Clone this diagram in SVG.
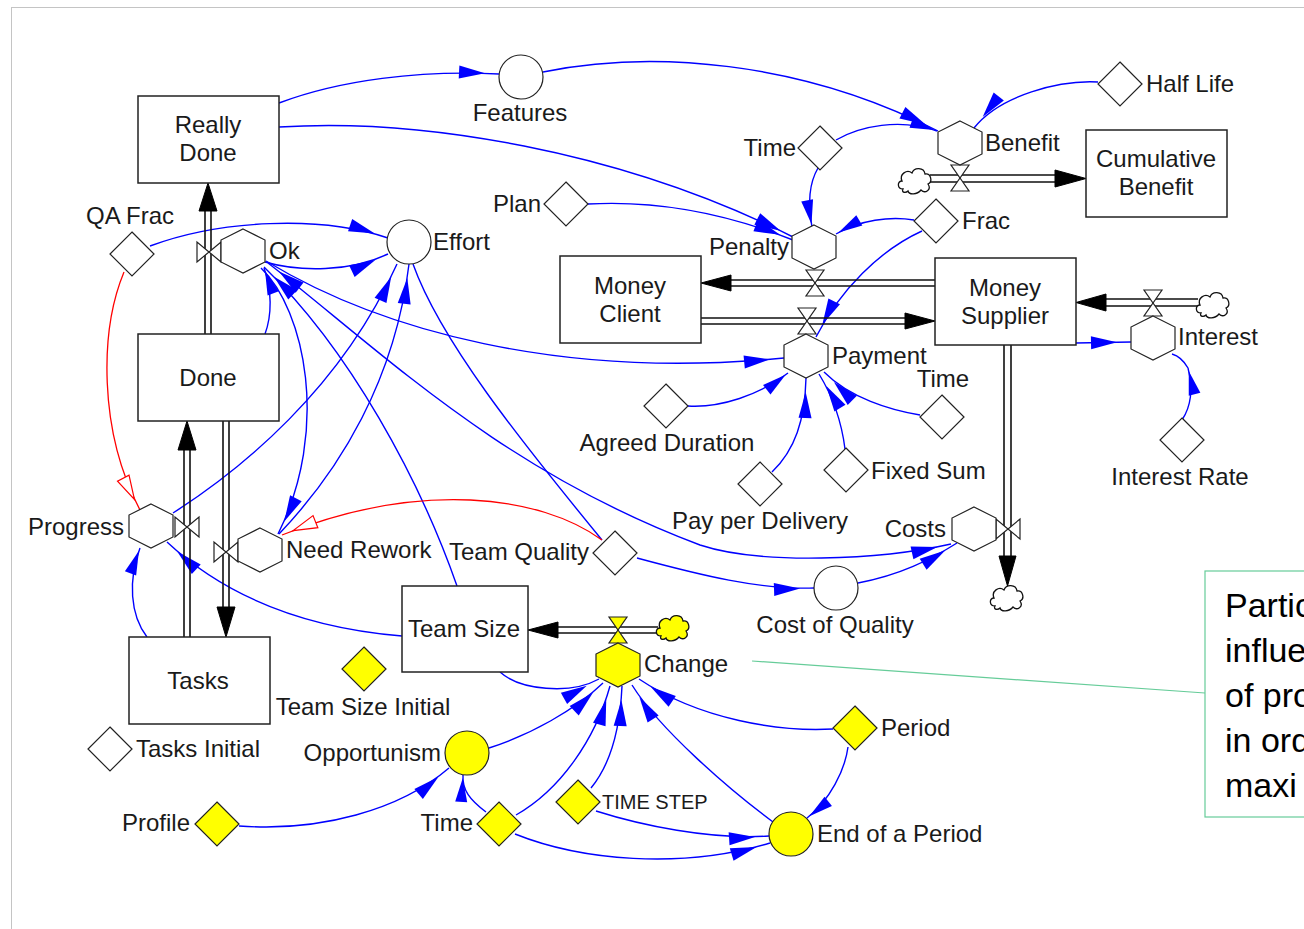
<svg xmlns="http://www.w3.org/2000/svg" xmlns:xlink="http://www.w3.org/1999/xlink" width="1304" height="929" viewBox="0 0 1304 929">
<style>
.t{font-family:"Liberation Sans",Arial,sans-serif;font-size:24px;fill:#1a1a1a;dominant-baseline:central}
.c{text-anchor:middle}
.e{text-anchor:end}
.box{fill:#fff;stroke:#222;stroke-width:1.5}
.n{fill:#fff;stroke:#222;stroke-width:1.2}
.y{fill:#ffff00;stroke:#222;stroke-width:1.2}
.lk{fill:none;stroke:#0000ff;stroke-width:1.4}
.rd{fill:none;stroke:#ff0000;stroke-width:1.3}
.fl{fill:none;stroke:#111;stroke-width:1.6}
.fa{fill:#000;stroke:#000;stroke-width:1}
.note{font-family:"Liberation Sans",Arial,sans-serif;font-size:34px;fill:#000}
</style>
<defs>
<polygon id="hex" points="0,-22 22,-11 22,11 0,22 -22,11 -22,-11"/>
<polygon id="dia" points="0,-22 22,0 0,22 -22,0"/>
<path id="cloud" d="M-12,9 C-18,9 -18,1 -13,1 C-16,-6 -8,-11 -3,-7 C-1,-13 9,-13 10,-6 C16,-7 18,2 13,4 C17,10 10,14 6,10 C2,15 -6,15 -7,11 C-9,13 -14,13 -12,9 Z" stroke="#111" stroke-width="1.3"/>
<g id="vh"><polygon points="-9,-13 9,-13 0,0" /><polygon points="-9,13 9,13 0,0"/></g>
<g id="vv"><polygon points="-12,-10 -12,10 0,0"/><polygon points="12,-10 12,10 0,0"/></g>
<marker id="ar" markerUnits="userSpaceOnUse" viewBox="-50 -10 50 20" markerWidth="50" markerHeight="20" refX="0" refY="0" orient="auto"><path d="M-14,0 L-40,-6.5 L-40,6.5 Z" fill="#0000ff"/></marker>
<marker id="arS" markerUnits="userSpaceOnUse" viewBox="-50 -10 50 20" markerWidth="50" markerHeight="20" refX="0" refY="0" orient="auto-start-reverse"><path d="M-14,0 L-40,-6.5 L-40,6.5 Z" fill="#0000ff"/></marker>
<marker id="ar0" markerUnits="userSpaceOnUse" viewBox="-50 -10 50 20" markerWidth="50" markerHeight="20" refX="0" refY="0" orient="auto"><path d="M-3,0 L-27,-6 L-27,6 Z" fill="#0000ff"/></marker>
<marker id="ho" markerUnits="userSpaceOnUse" viewBox="-50 -10 50 20" markerWidth="50" markerHeight="20" refX="0" refY="0" orient="auto"><path d="M-12,0 L-36,-6.5 L-36,6.5 Z" fill="#fff" stroke="#ff0000" stroke-width="1.2"/></marker>
</defs>
<rect x="0" y="0" width="1304" height="929" fill="#fff"/>
<rect x="11.5" y="7.5" width="1400" height="1000" fill="none" stroke="#888" stroke-width="1" stroke-dasharray="1 1"/>

<g id="connectors">
<path class="lk" marker-end="url(#ar)" d="M279,103 C340,80 420,70 499,74"/>
<path class="lk" marker-end="url(#ar)" d="M543,72 C650,50 800,60 938,131"/>
<path class="lk" marker-end="url(#ar)" d="M279,127 C420,118 620,150 793,237"/>
<path class="lk" marker-end="url(#ar)" d="M588,204 C660,200 730,215 793,240"/>
<path class="lk" marker-end="url(#ar0)" d="M836,140 C860,126 900,118 937,131"/>
<path class="lk" marker-end="url(#ar0)" d="M818,168 C808,185 808,205 812,227"/>
<path class="lk" marker-end="url(#ar)" d="M1098,82 C1060,80 1000,95 974,128"/>
<path class="lk" marker-end="url(#ar0)" d="M914,220 C890,216 860,220 836,234"/>
<path class="lk" marker-end="url(#ar)" d="M922,231 C880,250 840,290 816,337"/>
<path class="lk" marker-end="url(#ar)" d="M1076,343 L1131,342"/>
<path class="lk" marker-end="url(#ar0)" d="M1182,420 C1192,405 1193,388 1188,368"/>
<path class="lk" d="M1188,368 C1184,361 1179,356 1172,354"/>
<path class="lk" marker-end="url(#ar0)" d="M688,406 C720,408 760,395 788,373"/>
<path class="lk" marker-end="url(#ar)" d="M772,472 C795,450 805,420 806,378"/>
<path class="lk" marker-end="url(#ar)" d="M845,449 C842,425 835,400 819,374"/>
<path class="lk" marker-end="url(#ar)" d="M920,415 C890,410 850,398 824,372"/>
<path class="lk" marker-end="url(#ar)" d="M266,261 C380,330 560,380 784,358"/>
<path class="lk" marker-end="url(#ar)" d="M265,262 C300,272 350,272 388,254"/>
<path class="lk" marker-end="url(#ar)" d="M150,246 C220,220 320,215 388,238"/>
<path class="lk" marker-end="url(#ar0)" d="M265,334 C272,315 272,290 264,268"/>
<path class="lk" marker-end="url(#ar)" d="M173,513 C240,470 340,390 397,264"/>
<path class="lk" marker-end="url(#ar)" d="M279,534 C340,470 395,380 409,264"/>
<path class="lk" marker-end="url(#ar)" d="M261,268 C305,310 330,430 278,534"/>
<path class="lk" marker-end="url(#ar)" d="M457,586 C420,480 350,350 264,267"/>
<path class="lk" d="M413,264 C440,340 520,440 602,540"/>
<path class="lk" marker-start="url(#arS)" marker-end="url(#ar)" d="M268,263 C380,350 500,470 700,545 C760,565 880,560 951,544"/>
<path class="lk" marker-end="url(#ar)" d="M402,636 C330,630 240,610 167,542"/>
<path class="lk" marker-end="url(#ar0)" d="M147,637 C130,615 128,580 140,548"/>
<path class="rd" marker-end="url(#ho)" d="M124,272 C100,330 98,430 140,510"/>
<path class="rd" marker-end="url(#ho)" d="M602,540 C540,495 420,480 282,535"/>
<path class="lk" marker-end="url(#ar)" d="M637,558 C700,575 760,590 814,588"/>
<path class="lk" marker-end="url(#ar)" d="M858,583 C900,575 930,560 957,543"/>
<path class="lk" marker-end="url(#ar)" d="M500,672 C520,690 570,695 599,679"/>
<path class="lk" marker-end="url(#ar)" d="M489,748 C530,735 575,710 603,683"/>
<path class="lk" marker-end="url(#ar)" d="M516,815 C560,790 595,740 610,686"/>
<path class="lk" marker-end="url(#ar)" d="M591,788 C610,765 620,730 622,686"/>
<path class="lk" marker-end="url(#ar)" d="M773,822 C730,790 660,730 632,685"/>
<path class="lk" marker-end="url(#ar)" d="M833,729 C780,732 700,720 639,679"/>
<path class="lk" marker-end="url(#ar0)" d="M848,747 C845,770 830,800 807,818"/>
<path class="lk" marker-end="url(#ar)" d="M596,811 C640,825 710,840 769,836"/>
<path class="lk" marker-end="url(#ar)" d="M515,834 C580,860 680,870 770,843"/>
<path class="lk" marker-end="url(#ar0)" d="M486,812 C470,800 462,790 463,775"/>
<path class="lk" marker-end="url(#ar)" d="M239,826 C320,832 400,810 449,768"/>
<line x1="752" y1="661" x2="1205" y2="693" stroke="#66cc99" stroke-width="1.2"/>
</g>

<g id="flows">
<g id="flow-ok"><path class="fl" d="M205,334 V209 M211,334 V209"/><polygon class="fa" points="208,183 199,211 217,211"/><use href="#vv" x="209" y="252" class="n"/></g>
<g id="flow-progress"><path class="fl" d="M184,637 V448 M190,637 V448"/><polygon class="fa" points="187,421 178,450 196,450"/><use href="#vv" x="187" y="527" class="n"/></g>
<g id="flow-needrework"><path class="fl" d="M223,421 V610 M229,421 V610"/><polygon class="fa" points="226,637 217,607 235,607"/><use href="#vv" x="226" y="552" class="n"/></g>
<g id="flow-benefit"><path class="fl" d="M930,175 H1057 M930,182 H1057"/><polygon class="fa" points="1086,178.5 1055,170 1055,187"/><use href="#vh" x="960" y="178" class="n"/><use href="#cloud" x="915" y="180" fill="#fff"/></g>
<g id="flow-penalty"><path class="fl" d="M935,280 H728 M935,286 H728"/><polygon class="fa" points="701,283 731,275 731,291"/><use href="#vh" x="815" y="283" class="n"/></g>
<g id="flow-payment"><path class="fl" d="M701,318 H907 M701,324 H907"/><polygon class="fa" points="935,321 905,313 905,329"/><use href="#vh" x="807" y="321" class="n"/></g>
<g id="flow-interest"><path class="fl" d="M1198,299 H1104 M1198,306 H1104"/><polygon class="fa" points="1076,302.5 1106,294 1106,311"/><use href="#vh" x="1153" y="303" class="n"/><use href="#cloud" x="1213" y="304" fill="#fff"/></g>
<g id="flow-costs"><path class="fl" d="M1004,345 V559 M1011,345 V559"/><polygon class="fa" points="1007.5,586 999,556 1016,556"/><use href="#vv" x="1008" y="529" class="n"/><use href="#cloud" x="1007" y="597" fill="#fff"/></g>
<g id="flow-change"><path class="fl" d="M658,627 H556 M658,633 H556"/><polygon class="fa" points="528,630 558,622 558,638"/><use href="#vh" x="618" y="630" class="y"/><use href="#cloud" x="673" y="627" fill="#ffff00"/></g>
</g>

<g id="really-done"><rect class="box" x="138" y="96" width="141" height="87"/><text class="t c" x="208" y="124">Really</text><text class="t c" x="208" y="152">Done</text></g>
<g id="features"><circle class="n" cx="521" cy="77" r="22"/><text class="t c" x="520" y="112">Features</text></g>
<g id="half-life"><use href="#dia" x="1120" y="84" class="n"/><text class="t" x="1146" y="83">Half Life</text></g>
<g id="benefit"><use href="#hex" x="960" y="143" class="n"/><text class="t" x="985" y="142">Benefit</text></g>
<g id="cumulative-benefit"><rect class="box" x="1086" y="130" width="141" height="87"/><text class="t c" x="1156" y="158">Cumulative</text><text class="t c" x="1156" y="186">Benefit</text></g>
<g id="time-top"><use href="#dia" x="820" y="148" class="n"/><text class="t e" x="796" y="147">Time</text></g>
<g id="plan"><use href="#dia" x="566" y="204" class="n"/><text class="t e" x="541" y="203">Plan</text></g>
<g id="penalty"><use href="#hex" x="814" y="247" class="n"/><text class="t e" x="789" y="246">Penalty</text></g>
<g id="frac"><use href="#dia" x="936" y="221" class="n"/><text class="t" x="962" y="220">Frac</text></g>
<g id="money-client"><rect class="box" x="560" y="256" width="141" height="87"/><text class="t c" x="630" y="285">Money</text><text class="t c" x="630" y="313">Client</text></g>
<g id="money-supplier"><rect class="box" x="935" y="258" width="141" height="87"/><text class="t c" x="1005" y="287">Money</text><text class="t c" x="1005" y="315">Supplier</text></g>
<g id="payment"><use href="#hex" x="806" y="356" class="n"/><text class="t" x="832" y="355">Payment</text></g>
<g id="interest"><use href="#hex" x="1153" y="338" class="n"/><text class="t" x="1178" y="336">Interest</text></g>
<g id="interest-rate"><use href="#dia" x="1182" y="440" class="n"/><text class="t c" x="1180" y="476">Interest Rate</text></g>
<g id="time-payment"><use href="#dia" x="942" y="417" class="n"/><text class="t c" x="943" y="378">Time</text></g>
<g id="agreed-duration"><use href="#dia" x="666" y="406" class="n"/><text class="t c" x="667" y="442">Agreed Duration</text></g>
<g id="fixed-sum"><use href="#dia" x="846" y="470" class="n"/><text class="t" x="871" y="470">Fixed Sum</text></g>
<g id="pay-per-delivery"><use href="#dia" x="760" y="484" class="n"/><text class="t c" x="760" y="520">Pay per Delivery</text></g>
<g id="costs"><use href="#hex" x="974" y="529" class="n"/><text class="t e" x="946" y="528">Costs</text></g>
<g id="cost-of-quality"><circle class="n" cx="836" cy="588" r="22"/><text class="t c" x="835" y="624">Cost of Quality</text></g>
<g id="team-quality"><use href="#dia" x="615" y="553" class="n"/><text class="t e" x="589" y="551">Team Quality</text></g>
<g id="effort"><circle class="n" cx="409" cy="242" r="22"/><text class="t" x="433" y="241">Effort</text></g>
<g id="ok"><use href="#hex" x="243" y="251" class="n"/><text class="t" x="269" y="250">Ok</text></g>
<g id="qa-frac"><use href="#dia" x="132" y="254" class="n"/><text class="t c" x="130" y="215">QA Frac</text></g>
<g id="done"><rect class="box" x="138" y="334" width="141" height="87"/><text class="t c" x="208" y="377">Done</text></g>
<g id="progress"><use href="#hex" x="151" y="526" class="n"/><text class="t e" x="124" y="526">Progress</text></g>
<g id="need-rework"><use href="#hex" x="260" y="550" class="n"/><text class="t" x="286" y="549">Need Rework</text></g>
<g id="tasks"><rect class="box" x="129" y="637" width="141" height="87"/><text class="t c" x="198" y="680">Tasks</text></g>
<g id="tasks-initial"><use href="#dia" x="110" y="749" class="n"/><text class="t" x="136" y="748">Tasks Initial</text></g>
<g id="team-size"><rect class="box" x="402" y="586" width="126" height="86"/><text class="t c" x="464" y="628">Team Size</text></g>
<g id="team-size-initial"><use href="#dia" x="364" y="669" class="y"/><text class="t c" x="363" y="706">Team Size Initial</text></g>
<g id="change"><use href="#hex" x="618" y="665" class="y"/><text class="t" x="644" y="663">Change</text></g>
<g id="opportunism"><circle class="y" cx="467" cy="753" r="22"/><text class="t e" x="441" y="752">Opportunism</text></g>
<g id="profile"><use href="#dia" x="217" y="824" class="y"/><text class="t e" x="190" y="822">Profile</text></g>
<g id="time-bottom"><use href="#dia" x="499" y="824" class="y"/><text class="t e" x="473" y="822">Time</text></g>
<g id="time-step"><use href="#dia" x="578" y="802" class="y"/><text class="t" x="602" y="802" style="font-size:20px">TIME STEP</text></g>
<g id="period"><use href="#dia" x="855" y="728" class="y"/><text class="t" x="881" y="727">Period</text></g>
<g id="end-of-a-period"><circle class="y" cx="791" cy="834" r="22"/><text class="t" x="817" y="833">End of a Period</text></g>
<g id="note"><rect x="1205" y="571" width="200" height="246" fill="#fff" stroke="#66cc99" stroke-width="1.2"/>
<text class="note" x="1225" y="617">Partic</text><text class="note" x="1225" y="662">influe</text><text class="note" x="1225" y="707">of pro</text><text class="note" x="1225" y="752">in ord</text><text class="note" x="1225" y="797">maxi</text></g>
</svg>
